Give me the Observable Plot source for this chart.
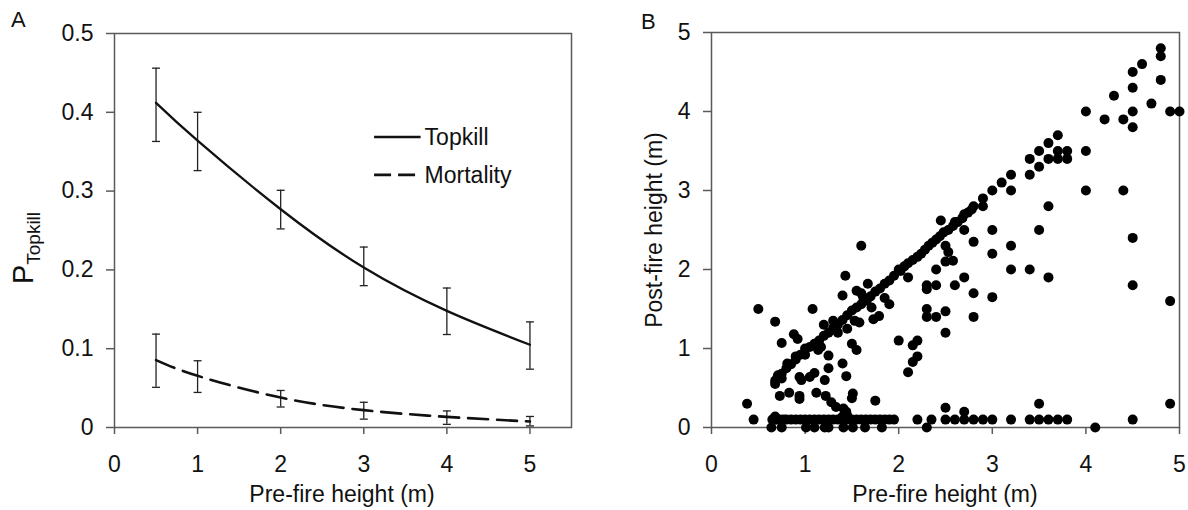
<!DOCTYPE html>
<html><head><meta charset="utf-8">
<script src="https://cdn.jsdelivr.net/npm/d3@7"></script>
<script src="https://cdn.jsdelivr.net/npm/@observablehq/plot@0.6"></script>
<style>
body{margin:0;background:#fff;}
#wrap{display:flex;width:1188px;height:510px;overflow:hidden;}
svg text{font-family:"Liberation Sans",Arial,sans-serif;}
</style></head><body><div id="wrap"></div>
<script>
// ---------- Panel A data ----------
const heightsA = [0.5, 1, 2, 3, 4, 5];
const topkill     = [0.412, 0.364, 0.277, 0.203, 0.148, 0.105];
const topkillLo   = [0.363, 0.326, 0.252, 0.180, 0.118, 0.074];
const topkillHi   = [0.456, 0.400, 0.301, 0.229, 0.177, 0.134];
const mortality   = [0.0855, 0.0656, 0.038, 0.022, 0.0135, 0.0076];
const mortalityLo = [0.051, 0.0445, 0.026, 0.0106, 0.004, 0.002];
const mortalityHi = [0.1185, 0.0847, 0.047, 0.032, 0.021, 0.014];
const xTicksA = [0, 1, 2, 3, 4, 5];
const yTicksA = [0, 0.1, 0.2, 0.3, 0.4, 0.5];
const seriesNames = ["Topkill", "Mortality"];

// ---------- Panel B data: [pre-fire height, post-fire height] ----------
const ticksB = [0, 1, 2, 3, 4, 5];
const upperPairs = [[4.8,4.8],[4.8,4.7],[4.6,4.6],[4.5,4.5],[4.8,4.4],[4.5,4.3],[4.3,4.2],[4.7,4.1],[4.5,4.0],[4.9,4.0],[5.0,4.0],[4.0,4.0],[4.2,3.9],[4.4,3.9],[4.5,3.8],
[3.7,3.7],[3.6,3.6],[3.5,3.5],[3.4,3.4],[3.6,3.4],[3.7,3.5],[3.8,3.5],[3.7,3.4],[3.8,3.4],[3.5,3.3],[3.4,3.2],[4.0,3.5],[3.2,3.2],[3.1,3.1],[3.0,3.0],[3.2,3.0],[4.0,3.0],[4.4,3.0],[2.9,2.9],[2.8,2.8],[2.9,2.8],[3.6,2.8],[2.7,2.7],[2.6,2.6],[2.45,2.62],[2.7,2.5],[3.0,2.5],[3.5,2.5],[2.8,2.35],[3.2,2.3],[4.5,2.4],[1.6,2.3],[4.5,1.8],[4.9,1.6],[4.9,0.3],[4.5,0.1],[4.1,0.0]];
const middlePairs = [[2.5,2.3],[2.53,2.22],[2.58,2.11],[2.5,2.1],[3.0,2.2],[2.4,2.0],[2.7,1.9],[3.2,2.0],[3.4,2.0],[3.6,1.9],[2.1,1.9],[2.0,2.0],[2.3,1.8],[2.4,1.8],[2.3,1.75],[2.6,1.8],[2.8,1.7],[3.0,1.65],[2.3,1.5],[2.5,1.47],[2.4,1.4],[2.3,1.4],[2.8,1.4],[2.5,1.2],[2.0,1.1],[2.2,1.1],[2.15,1.04],[2.2,0.9],[2.15,0.83],[2.1,0.7],[2.5,0.25],[2.7,0.2],[3.5,0.3]];
const diagonalPairs = [[0.7,0.62],[0.75,0.68],[0.8,0.75],[0.85,0.8],[0.9,0.86],[0.95,0.92],[1.0,1.0],[1.05,1.02],[1.1,1.06],[1.15,1.1],[1.2,1.16],[1.25,1.2],[1.3,1.26],[1.35,1.3],[1.4,1.36],[1.45,1.42],[1.5,1.48],[1.55,1.52],[1.6,1.56],[1.63,1.6],[1.66,1.63],[1.7,1.66],[1.75,1.72],[1.8,1.76],[1.85,1.82],[1.9,1.86],[1.95,1.92],[2.02,1.98],[2.06,2.04],[2.1,2.08],[2.15,2.12],[2.2,2.16],[2.24,2.2],[2.28,2.25],[2.32,2.3],[2.36,2.34],[2.4,2.38],[2.44,2.42],[2.48,2.47],[2.53,2.5],[2.58,2.55],[2.63,2.6],[2.68,2.65],[2.74,2.72],[2.78,2.76]];
const leftPairs = [[0.5,1.5],[1.08,1.5],[1.43,1.92],[1.4,1.67],[0.68,1.34],[0.75,1.07],[0.88,1.18],[0.92,1.12],[0.81,0.81],[0.9,0.9],[1.0,0.92],[1.14,0.98],[1.17,1.02],[1.25,0.91],[1.25,0.75],[1.4,0.81],[1.44,0.65],[1.5,1.06],[1.55,0.98],[1.66,1.61],[1.71,1.52],[1.73,1.37],[1.79,1.41],[1.85,1.64],[1.9,1.56],[1.55,1.73],[1.53,1.35],[1.58,1.33],[1.67,1.82],[1.6,1.7],[1.62,1.65],[1.21,0.6],[1.1,0.69],[1.05,0.64],[0.94,0.64],[0.96,0.6],[0.68,0.59],[0.71,0.66],[0.68,0.55],[0.75,0.62],[0.73,0.4],[0.83,0.44],[0.94,0.4],[0.94,0.36],[1.12,0.44],[1.22,0.4],[1.28,0.32],[1.33,0.26],[1.41,0.24],[1.44,0.2],[1.51,0.43],[1.5,0.37],[1.75,0.34],[0.38,0.3],[0.45,0.1],[1.2,1.3],[1.3,1.35],[1.35,1.2],[1.45,1.25],[0.68,0.14],[1.4,0.14],[1.45,0.15]];
const rowTenthPre = [0.65,0.68,0.7,0.73,0.77,0.8,0.85,0.9,0.95,1.0,1.05,1.1,1.15,1.2,1.25,1.3,1.35,1.4,1.42,1.45,1.5,1.55,1.6,1.65,1.7,1.75,1.8,1.85,1.9,1.95,2.2,2.35,2.5,2.6,2.7,2.8,2.9,3.0,3.2,3.4,3.5,3.6,3.7,3.8];
const rowZeroPre = [0.64,0.75,1.01,1.1,1.21,1.25,1.41,1.51,1.64,1.82,2.3];

const font = '"Liberation Sans", Arial, sans-serif';
const axisGray = "#5a5a5a";
const fs = 23;

// ---------- Panel A ----------
const rowsA = [];
heightsA.forEach((h, i) => {
  rowsA.push({h, series: seriesNames[0], p: topkill[i], lo: topkillLo[i], hi: topkillHi[i]});
  rowsA.push({h, series: seriesNames[1], p: mortality[i], lo: mortalityLo[i], hi: mortalityHi[i]});
});
const capSymbol = {draw(ctx, size) { const w = Math.sqrt(size / Math.PI); ctx.moveTo(-w, 0); ctx.lineTo(w, 0); }};

const plotA = Plot.plot({
  width: 600, height: 510,
  marginLeft: 114, marginRight: 29, marginTop: 33, marginBottom: 83,
  style: {fontFamily: font, background: "#fff", overflow: "visible"},
  x: {domain: [0, 5.5]},
  y: {domain: [0, 0.5]},
  marks: [
    Plot.frame({stroke: axisGray, strokeWidth: 1.5}),
    Plot.axisX({ticks: xTicksA, tickSize: 7, tickPadding: 21, stroke: axisGray, strokeWidth: 1.5, fill: "#111", fontSize: fs, label: null, tickFormat: d => String(d)}),
    Plot.axisY({ticks: yTicksA, tickSize: 8, tickPadding: 13, stroke: axisGray, strokeWidth: 1.5, fill: "#111", fontSize: fs, label: null, tickFormat: d => d === 0 ? "0" : d3.format(".1f")(d)}),
    Plot.ruleX(rowsA, {x: "h", y1: "lo", y2: "hi", stroke: "#222", strokeWidth: 1.3}),
    Plot.dot(rowsA, {x: "h", y: "lo", symbol: capSymbol, r: 4, stroke: "#222", strokeWidth: 1.3}),
    Plot.dot(rowsA, {x: "h", y: "hi", symbol: capSymbol, r: 4, stroke: "#222", strokeWidth: 1.3}),
    Plot.line(rowsA.filter(d => d.series === "Topkill"), {x: "h", y: "p", curve: "natural", stroke: "#111", strokeWidth: 2.3}),
    Plot.line(rowsA.filter(d => d.series === "Mortality"), {x: "h", y: "p", curve: "natural", stroke: "#111", strokeWidth: 2.6, strokeDasharray: "20,9"})
  ]
});

// ---------- Panel B ----------
const scatterB = [
  ...upperPairs, ...middlePairs, ...diagonalPairs, ...leftPairs,
  ...rowTenthPre.map(x => [x, 0.1]),
  ...rowZeroPre.map(x => [x, 0])
];
const plotB = Plot.plot({
  width: 588, height: 510,
  marginLeft: 111, marginRight: 9, marginTop: 32, marginBottom: 83,
  style: {fontFamily: font, background: "#fff", overflow: "visible"},
  x: {domain: [0, 5]},
  y: {domain: [0, 5]},
  marks: [
    Plot.frame({stroke: axisGray, strokeWidth: 1.5}),
    Plot.axisX({ticks: ticksB, tickSize: 7, tickPadding: 21, stroke: axisGray, strokeWidth: 1.5, fill: "#111", fontSize: fs, label: null, tickFormat: d => String(d)}),
    Plot.axisY({ticks: ticksB, tickSize: 8, tickPadding: 13, stroke: axisGray, strokeWidth: 1.5, fill: "#111", fontSize: fs, label: null, tickFormat: d => String(d)}),
    Plot.dot(scatterB, {x: d => d[0], y: d => d[1], r: 5, fill: "#000", stroke: "none"})
  ]
});

const wrap = document.getElementById("wrap");
wrap.appendChild(plotA);
wrap.appendChild(plotB);

// ---------- annotations (titles, panel letters, legend) ----------
function addText(svg, x, y, txt, size, anchor, rotate) {
  return d3.select(svg).append("text")
    .attr("transform", `translate(${x},${y})` + (rotate ? ` rotate(${rotate})` : ""))
    .attr("text-anchor", anchor).attr("font-size", size).attr("fill", "#111")
    .style("font-family", font).text(txt);
}
addText(plotA, 11, 27, "A", 22, "start");
addText(plotB, 41, 29, "B", 22, "start");
addText(plotA, 342, 502, "Pre-fire height (m)", fs, "middle");
addText(plotB, 345, 502, "Pre-fire height (m)", fs, "middle");
addText(plotB, 62, 230, "Post-fire height (m)", fs, "middle", -90);

const yt = d3.select(plotA).append("text")
  .attr("transform", "translate(33,248) rotate(-90)")
  .attr("text-anchor", "middle").attr("fill", "#111").style("font-family", font);
yt.append("tspan").attr("font-size", 29).text("P");
yt.append("tspan").attr("font-size", 19).attr("dy", 7).text("Topkill");

// legend, placed with the panel's own scales
const sx = plotA.scale("x"), sy = plotA.scale("y");
const lg = d3.select(plotA).append("g");
const legendX0 = sx.apply(3.13), legendX1 = sx.apply(3.69);
[[seriesNames[0], 0.368, null], [seriesNames[1], 0.320, "17,7"]].forEach(([name, yv, dash]) => {
  const py = sy.apply(yv);
  const ln = lg.append("line").attr("x1", legendX0).attr("x2", legendX1).attr("y1", py).attr("y2", py)
    .attr("stroke", "#111").attr("stroke-width", dash ? 2.6 : 2.3);
  if (dash) ln.attr("stroke-dasharray", dash);
  lg.append("text").attr("x", legendX1 + 4).attr("y", py + 8).attr("text-anchor", "start")
    .attr("font-size", fs).attr("fill", "#111").style("font-family", font).text(name);
});
</script></body></html>
